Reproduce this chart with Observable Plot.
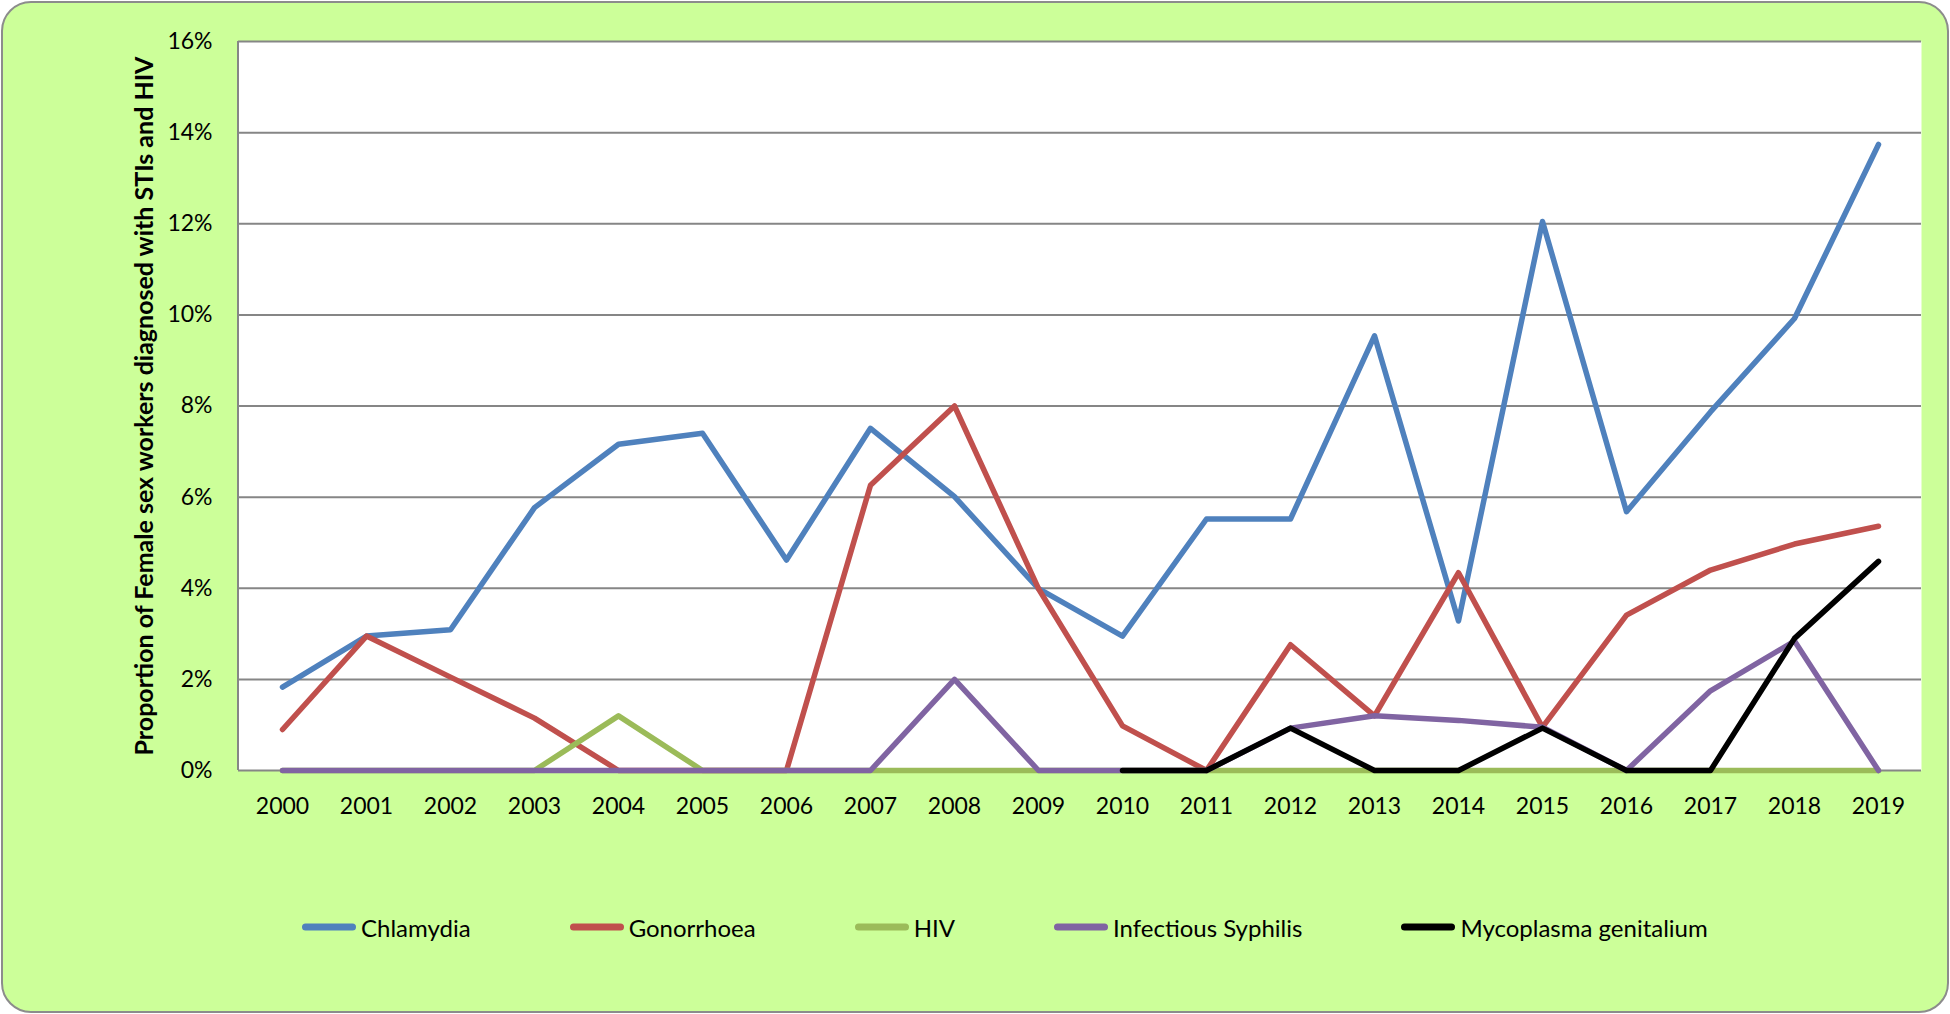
<!DOCTYPE html>
<html>
<head>
<meta charset="utf-8">
<script src="https://cdn.jsdelivr.net/npm/d3@7"></script>
<script src="https://cdn.jsdelivr.net/npm/@observablehq/plot@0.6"></script>
<style>
  html, body { margin: 0; padding: 0; width: 1950px; height: 1014px; overflow: hidden; background: #ffffff; }
  #frame {
    position: absolute; left: 1px; top: 1px; width: 1948px; height: 1012px;
    box-sizing: border-box; border: 2px solid #8c8c8c; border-radius: 30px;
    background: #ccff99;
  }
  #chart { position: absolute; left: 0; top: 0; }
  #legend {
    position: absolute; left: 302px; top: 927px; transform: translateY(-50%);
    display: flex; gap: 99px; align-items: center;
    font-family: Lato, "Open Sans", sans-serif; font-size: 24px; color: #000;
  }
  .item { display: flex; align-items: center; }
  .sw { width: 54px; height: 7px; border-radius: 3.5px; margin-right: 5px; }
</style>
</head>
<body>
<div id="frame"></div>
<div id="chart"></div>
<div id="legend"></div>
<script>
// ---- data (percent) ----
const years = ["2000","2001","2002","2003","2004","2005","2006","2007","2008","2009",
               "2010","2011","2012","2013","2014","2015","2016","2017","2018","2019"];
const chlamydia   = [1.83, 2.95, 3.09, 5.77, 7.16, 7.40, 4.62, 7.51, 6.01, 3.99,
                     2.95, 5.52, 5.52, 9.54, 3.28, 12.05, 5.68, 7.87, 9.92, 13.74];
const gonorrhoea  = [0.90, 2.95, 2.05, 1.15, 0, 0, 0, 6.26, 8.00, 3.99,
                     0.98, 0, 2.76, 1.20, 4.34, 0.95, 3.41, 4.40, 4.97, 5.36];
const hiv         = [0, 0, 0, 0, 1.20, 0, 0, 0, 0, 0,
                     0, 0, 0, 0, 0, 0, 0, 0, 0, 0];
const syphilis    = [0, 0, 0, 0, 0, 0, 0, 0, 2.00, 0,
                     0, 0, 0.93, 1.20, 1.10, 0.95, 0, 1.75, 2.84, 0];
const mycoplasma  = [null, null, null, null, null, null, null, null, null, null,
                     0, 0, 0.93, 0, 0, 0.93, 0, 0, 2.90, 4.59];
const seriesNames  = ["Chlamydia", "Gonorrhoea", "HIV", "Infectious Syphilis", "Mycoplasma genitalium"];
const seriesColors = ["#4f81bd", "#c0504d", "#9bbb59", "#8064a2", "#000000"];
const seriesValues = [chlamydia, gonorrhoea, hiv, syphilis, mycoplasma];
const yTicks = [0, 2, 4, 6, 8, 10, 12, 14, 16];
const yLabel = "Proportion of Female sex workers diagnosed with STIs and HIV";

const toRows = (vals) => years.map((y, i) => ({year: y, value: vals[i]})).filter(d => d.value != null);

const leftAxisLine = (index, scales, values, dims) => {
  const ns = "http://www.w3.org/2000/svg";
  const l = document.createElementNS(ns, "line");
  l.setAttribute("x1", dims.marginLeft); l.setAttribute("x2", dims.marginLeft);
  l.setAttribute("y1", dims.marginTop); l.setAttribute("y2", dims.height - dims.marginBottom);
  l.setAttribute("stroke", "#868686"); l.setAttribute("stroke-width", 2);
  return l;
};

const chart = Plot.plot({
  width: 1950,
  height: 860,
  marginLeft: 238,
  marginRight: 29,
  marginTop: 41,
  marginBottom: 90,
  style: { fontFamily: "Lato, 'Open Sans', sans-serif", fontSize: "23px", color: "#000", background: "transparent", overflow: "visible" },
  x: { type: "point", domain: years, padding: 0.5, label: null },
  y: { domain: [0, 16], label: null },
  marks: [
    Plot.frame({ fill: "white", stroke: null }),
    Plot.ruleY(yTicks, { stroke: "#868686", strokeWidth: 2 }),
    leftAxisLine,
    Plot.axisY(yTicks, { tickSize: 0, tickPadding: 26, tickFormat: d => d + "%", fontSize: 23, label: null }),
    Plot.axisX({ tickSize: 0, tickPadding: 27, fontSize: 23, label: null }),
    ...seriesValues.map((vals, i) =>
      Plot.line(toRows(vals), { x: "year", y: "value", stroke: seriesColors[i], strokeWidth: 5.5,
                                strokeLinejoin: "round", strokeLinecap: "round" })),
    Plot.text([yLabel], { frameAnchor: "left", textAnchor: "middle", dx: -94, rotate: -90,
                          fontWeight: "bold", fontSize: 25, fill: "#000" })
  ]
});
document.getElementById("chart").appendChild(chart);

const legend = document.getElementById("legend");
seriesNames.forEach((name, i) => {
  const item = document.createElement("div");
  item.className = "item";
  const sw = document.createElement("div");
  sw.className = "sw";
  sw.style.background = seriesColors[i];
  const tx = document.createElement("span");
  tx.textContent = name;
  item.appendChild(sw); item.appendChild(tx);
  legend.appendChild(item);
});
</script>
</body>
</html>
